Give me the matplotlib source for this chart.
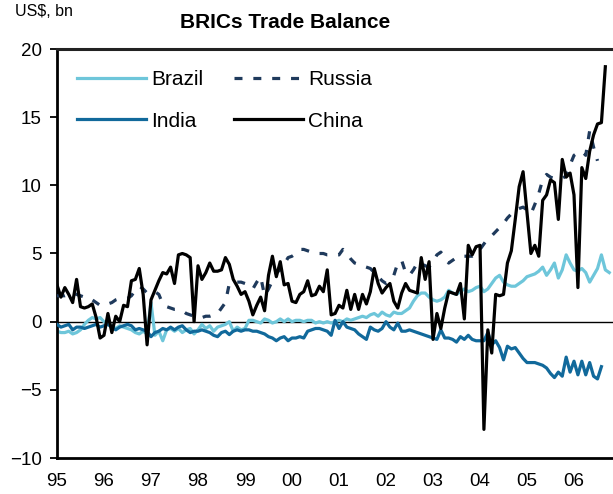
import numpy as np
import matplotlib
matplotlib.use("Agg")
import matplotlib.pyplot as plt

plt.rcParams['font.family'] = ['Liberation Sans', 'DejaVu Sans']

# monthly trade balance, US$ bn, starting Jan 1995
brazil = [-0.7,-0.8,-0.8,-0.7,-0.9,-0.8,-0.6,-0.2,0.1,0.3,
          0.2,0.3,0.0,-0.2,-0.3,-0.5,-0.3,-0.4,-0.5,-0.6,
          -0.8,-0.9,-0.7,-0.9,1.4,-1.0,-0.7,-1.4,-0.6,-0.5,
          -0.7,-0.5,-0.8,-0.6,-0.5,-0.9,-0.6,-0.2,-0.5,-0.3,
          -0.7,-0.4,-0.3,-0.2,0.0,-0.7,-0.4,-0.6,-0.5,0.1,
          0.1,0.0,-0.1,0.2,0.1,-0.1,0.0,0.2,0.0,0.2,
          0.0,0.1,0.1,0.0,0.1,0.1,-0.1,0.0,-0.1,0.0,
          -0.1,0.0,0.1,0.0,0.2,0.1,0.2,0.3,0.4,0.3,
          0.5,0.6,0.4,0.7,0.5,0.4,0.7,0.6,0.6,0.8,
          1.0,1.5,1.9,2.1,2.1,1.8,1.6,1.5,1.6,1.8,
          2.3,2.1,2.0,2.2,2.4,2.2,2.3,2.5,2.6,2.2,
          2.4,2.8,3.2,3.4,2.9,2.7,2.6,2.6,2.8,3.0,
          3.3,3.4,3.5,3.7,4.0,3.4,3.8,4.3,3.2,3.8,
          4.9,4.3,3.8,3.7,3.9,3.6,2.9,3.4,3.9,4.9,
          3.8,3.6]

russia = [1.9,1.9,1.9,2.0,2.1,2.0,1.9,1.8,1.8,1.6,
          1.4,1.2,1.2,1.3,1.4,1.6,1.7,1.7,1.7,1.9,
          2.3,2.6,2.4,2.1,2.1,2.2,2.0,1.3,1.1,1.0,
          0.9,0.9,0.8,0.6,0.5,0.4,0.3,0.3,0.4,0.4,
          0.5,0.6,1.0,1.4,2.8,2.9,2.9,2.9,2.8,2.6,
          2.4,2.9,3.3,1.9,2.4,3.0,3.6,3.8,4.2,4.7,
          4.8,5.0,5.3,5.3,5.2,5.1,5.0,5.0,5.0,4.9,
          4.9,4.9,4.9,5.3,5.0,4.6,4.3,4.2,4.1,4.0,
          3.9,3.6,3.3,3.0,2.8,3.1,3.4,4.3,4.5,3.6,
          3.4,3.8,4.3,4.3,4.1,4.0,4.4,4.9,5.1,4.7,
          4.3,4.5,4.7,4.8,4.8,4.8,4.8,5.0,5.3,5.7,
          6.1,6.3,6.6,6.9,7.2,7.6,7.9,8.2,8.3,8.4,
          8.2,7.9,8.6,9.4,10.4,10.8,10.6,10.5,10.5,10.5,
          10.7,11.5,12.2,12.4,12.5,12.2,14.0,12.8,11.8]

india = [-0.2,-0.4,-0.3,-0.2,-0.6,-0.4,-0.4,-0.5,-0.4,-0.3,
         -0.2,-0.4,-0.3,-0.2,-0.4,-0.6,-0.4,-0.3,-0.2,-0.3,
         -0.6,-0.5,-0.6,-0.7,-1.1,-0.8,-0.7,-0.5,-0.6,-0.4,
         -0.6,-0.4,-0.3,-0.6,-0.8,-0.7,-0.7,-0.6,-0.7,-0.8,
         -1.0,-1.1,-0.8,-0.7,-0.95,-0.7,-0.6,-0.7,-0.6,-0.6,
         -0.7,-0.7,-0.8,-0.9,-1.1,-1.2,-1.4,-1.2,-1.1,-1.4,
         -1.2,-1.2,-1.1,-1.2,-0.7,-0.6,-0.5,-0.5,-0.6,-0.7,
         -1.0,0.1,-0.5,0.0,-0.4,-0.5,-0.6,-0.9,-1.1,-1.3,
         -0.4,-0.6,-0.7,-0.5,0.0,-0.4,-0.6,-0.1,-0.7,-0.7,
         -0.6,-0.7,-0.8,-0.9,-1.0,-1.1,-1.2,-1.3,-0.6,-1.2,
         -1.2,-1.3,-1.5,-1.1,-1.3,-1.0,-1.3,-1.4,-1.4,-1.4,
         -0.8,-1.7,-1.4,-1.9,-2.8,-1.8,-2.0,-1.9,-2.3,-2.7,
         -3.0,-3.0,-3.0,-3.1,-3.2,-3.4,-3.8,-4.1,-3.7,-4.0,
         -2.6,-3.7,-2.9,-3.9,-2.9,-3.9,-3.0,-4.0,-4.2,-3.3]

china = [2.7,1.8,2.5,2.0,1.4,3.1,1.1,1.0,1.1,1.3,
         0.3,-1.2,-1.0,0.6,-0.8,0.4,0.0,1.2,1.1,3.0,
         3.1,3.9,2.0,-1.7,1.6,2.3,3.0,3.6,3.5,4.0,
         2.8,4.9,5.0,4.9,4.7,0.0,4.1,3.1,3.6,4.3,
         3.7,3.7,3.8,4.7,4.2,3.1,2.6,2.0,2.2,1.5,
         0.5,1.2,1.8,0.8,3.4,4.8,3.3,4.4,2.7,2.8,
         1.5,1.4,2.0,2.2,3.0,1.9,2.0,2.6,2.2,3.8,
         0.5,0.6,1.2,1.0,2.3,0.9,2.0,0.9,2.0,1.3,
         2.2,3.9,2.8,2.1,2.5,2.8,1.5,1.0,2.1,2.8,
         2.3,2.2,2.1,4.7,3.1,4.4,-1.3,0.6,-0.5,1.0,
         2.2,2.1,2.0,2.8,0.2,5.6,4.9,5.5,5.6,-7.9,
         -0.6,-2.3,2.0,1.9,2.0,4.3,5.2,7.5,9.9,11.0,
         8.0,5.0,5.6,4.8,8.9,9.3,10.4,10.2,7.5,11.9,
         10.6,10.9,9.3,2.5,11.3,10.5,12.5,13.7,14.5,14.6,
         18.7]

years = list(range(1995, 2007))
year_labels = ['95','96','97','98','99','00','01','02','03','04','05','06']

def months(series):
    return 1995 + np.arange(len(series)) / 12.0

fig = plt.figure(figsize=(6.13, 4.94), dpi=100)
ax = fig.add_axes([57/613, 36/494, 1 - 57/613, 409/494])

ax.axhline(0, color='black', lw=1.0, zorder=1)
l_br, = ax.plot(months(brazil), brazil, color='#6ec6da', lw=2.3, label='Brazil', zorder=2)
l_in, = ax.plot(months(india), india, color='#11699b', lw=2.3, label='India', zorder=3)
l_ru, = ax.plot(months(russia), russia, color='#1f3a5c', lw=2.3, ls=(0, (2.5, 3.4)),
                label='Russia', zorder=4)
l_ch, = ax.plot(months(china), china, color='black', lw=2.3, label='China', zorder=5)

ax.set_xlim(1995, 1995 + 556/47.0)
ax.set_ylim(-10, 20)
ax.set_yticks(range(-10, 21, 5))
ax.set_xticks(years)
ax.set_xticklabels(year_labels)
ax.tick_params(axis='x', length=0, pad=11, labelsize=13.5)
ax.tick_params(axis='y', direction='out', length=5, width=1.3, pad=6, labelsize=13.5)

for s in ['left', 'bottom']:
    ax.spines[s].set_linewidth(2)
    ax.spines[s].set_color('black')
ax.spines['top'].set_linewidth(2.2)
ax.spines['top'].set_color('#222222')
ax.spines['right'].set_visible(False)

ax.legend(handles=[l_br, l_in, l_ru, l_ch], ncol=2, loc='upper left',
          bbox_to_anchor=(20/556, 0.949), frameon=False, fontsize=15,
          handlelength=3.3, handletextpad=0.25, columnspacing=1.5,
          labelspacing=1.1, borderpad=0, borderaxespad=0)

fig.text(285/613, 1 - 22/494, 'BRICs Trade Balance', ha='center', va='center',
         fontsize=15, fontweight='bold')
fig.text(15/613, 1 - 12/494, 'US$, bn', ha='left', va='center', fontsize=11.5)

fig.savefig('out.png', dpi=100)
